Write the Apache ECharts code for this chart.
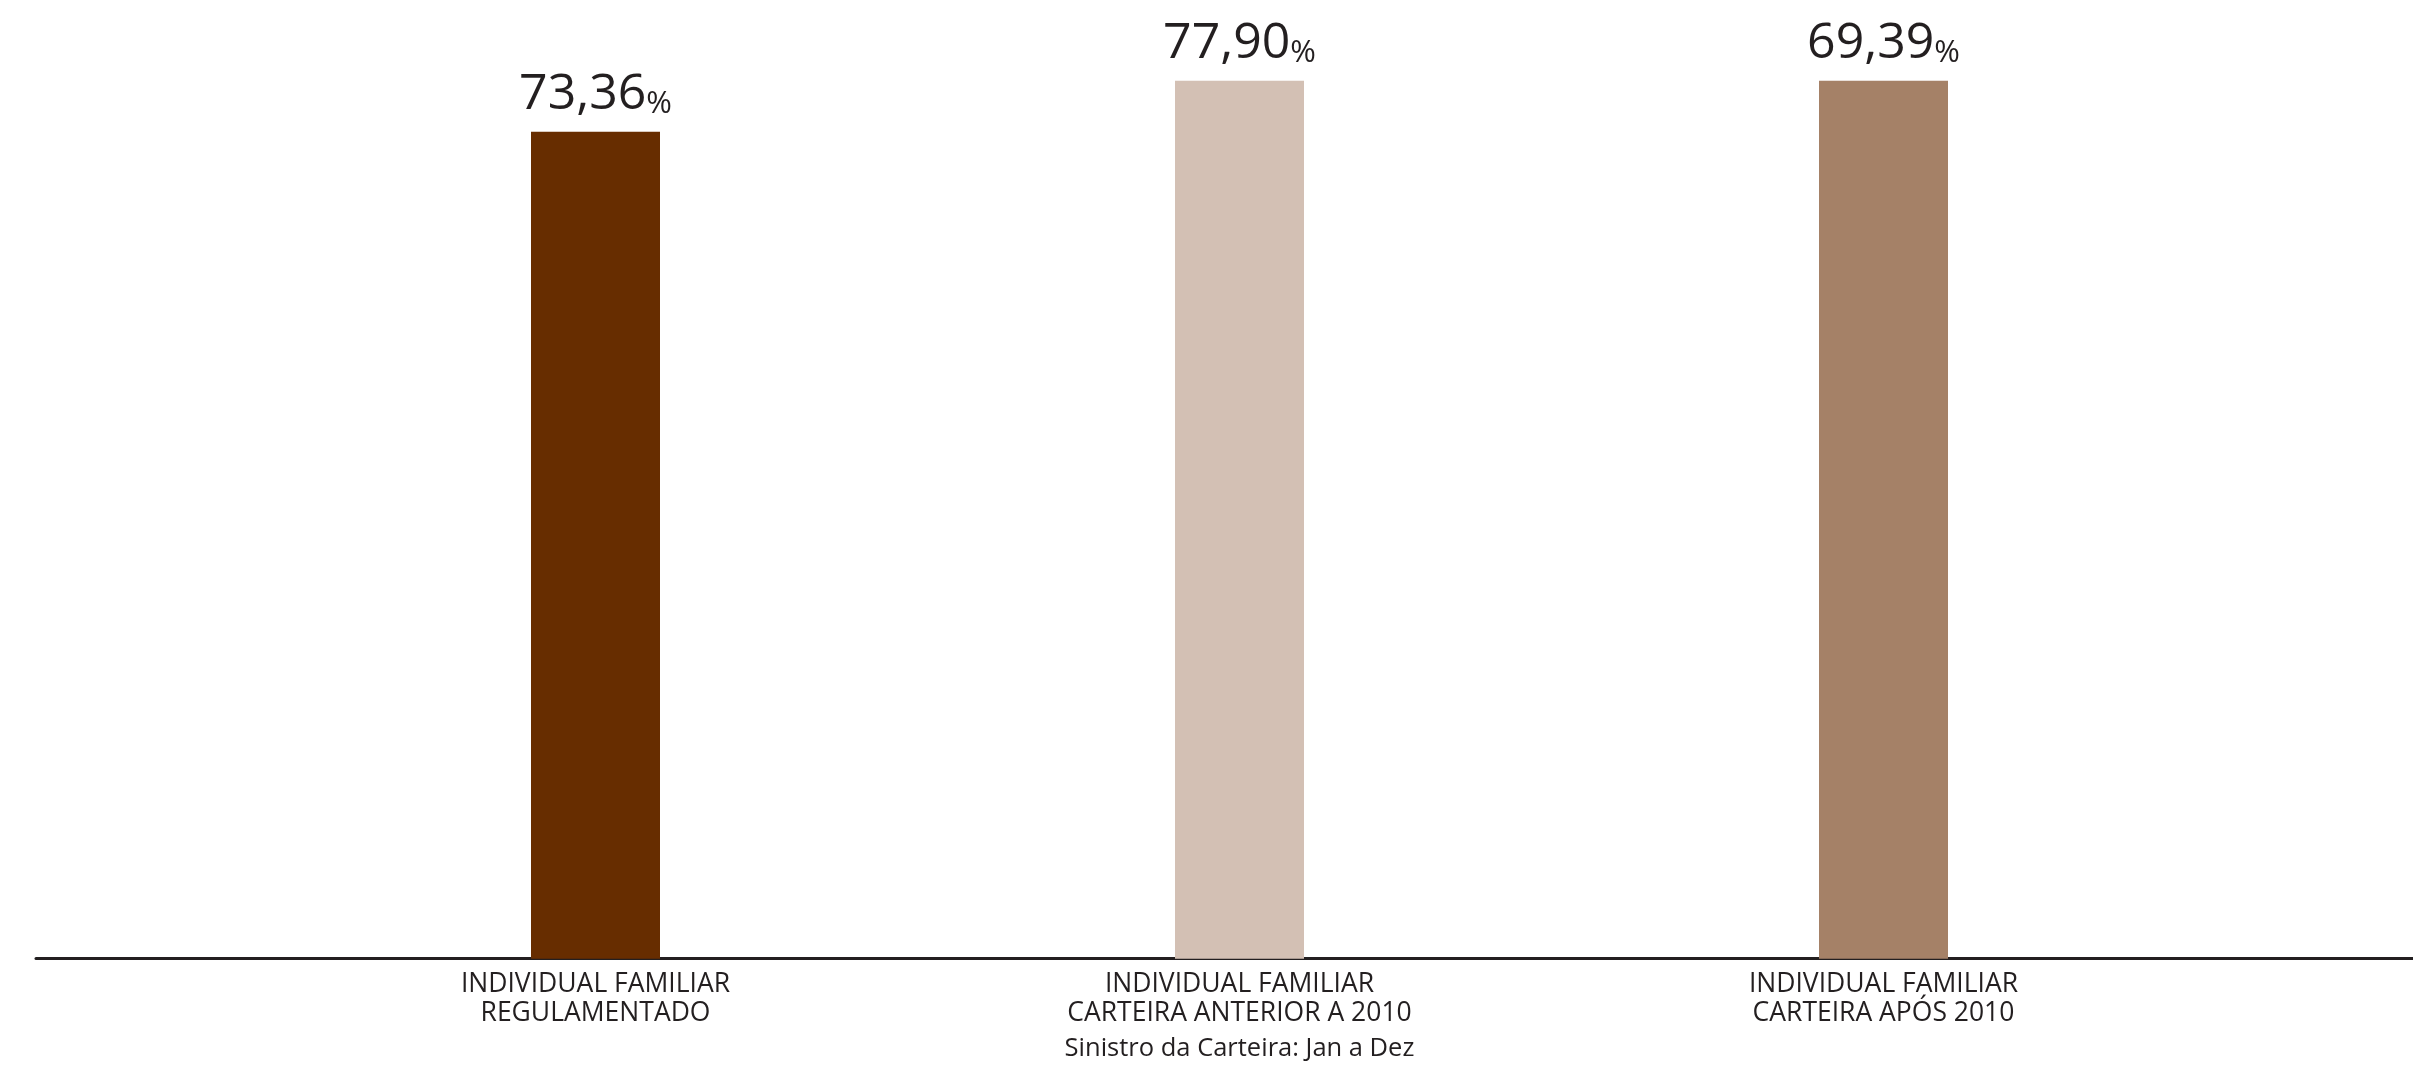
<!DOCTYPE html>
<html>
<head>
<meta charset="utf-8">
<style>
html,body{margin:0;padding:0;background:#fff;}
#chart{width:2413px;height:1066px;}
</style>
<script src="https://cdn.jsdelivr.net/npm/echarts@6/dist/echarts.min.js"></script>
</head>
<body>
<div id="chart"></div>
<script>
// Data
var categories = ['INDIVIDUAL FAMILIAR\nREGULAMENTADO', 'INDIVIDUAL FAMILIAR\nCARTEIRA ANTERIOR A 2010', 'INDIVIDUAL FAMILIAR\nCARTEIRA APÓS 2010'];
var barValues = [73.36, 77.90, 77.90];          // bar heights as drawn
var valueLabels = ['73,36', '77,90', '69,39'];  // printed labels
var barColors = ['#672d00', '#d3c0b4', '#a58167'];
var axisTitle = 'Sinistro da Carteira: Jan a Dez';

var FONT = '"Open Sans", "Noto Sans", sans-serif';
var TEXT = '#231f20';

var chart = echarts.init(document.getElementById('chart'), null, {renderer: 'canvas'});
chart.setOption({
  backgroundColor: '#ffffff',
  animation: false,
  grid: [
    {left: 273.5, right: 207.5, top: 57, bottom: 107.3, containLabel: false, outerBoundsMode: 'none'},
    {left: 36, right: 0, top: 57, bottom: 107.3, containLabel: false, outerBoundsMode: 'none'}
  ],
  xAxis: [
    {
      type: 'category', gridIndex: 0, data: categories,
      axisLine: {show: false}, axisTick: {show: false},
      axisLabel: {color: TEXT, fontFamily: FONT, fontSize: 26.5, lineHeight: 29, margin: 11, interval: 0},
      name: axisTitle, nameLocation: 'middle', nameGap: 77,
      nameTextStyle: {color: TEXT, fontFamily: FONT, fontSize: 25.5}
    },
    {
      type: 'value', gridIndex: 1, min: 0, max: 1,
      axisLine: {show: true, onZero: false, lineStyle: {color: TEXT, width: 3}},
      axisTick: {show: false}, axisLabel: {show: false}, splitLine: {show: false}
    }
  ],
  yAxis: [
    {type: 'value', gridIndex: 0, min: 0, max: 80, show: false},
    {type: 'value', gridIndex: 1, min: 0, max: 1, show: false}
  ],
  series: [{
    type: 'bar', xAxisIndex: 0, yAxisIndex: 0,
    barWidth: 129,
    data: barValues.map(function (v, i) {
      return {value: v, itemStyle: {color: barColors[i]}};
    }),
    label: {
      show: true, position: 'top', distance: 12,
      formatter: function (p) { return '{a|' + valueLabels[p.dataIndex] + '}{b|%}'; },
      rich: {
        a: {fontFamily: FONT, fontSize: 50, color: TEXT},
        b: {fontFamily: FONT, fontSize: 31, color: TEXT, verticalAlign: 'bottom'}
      }
    }
  }]
});
</script>
</body>
</html>
